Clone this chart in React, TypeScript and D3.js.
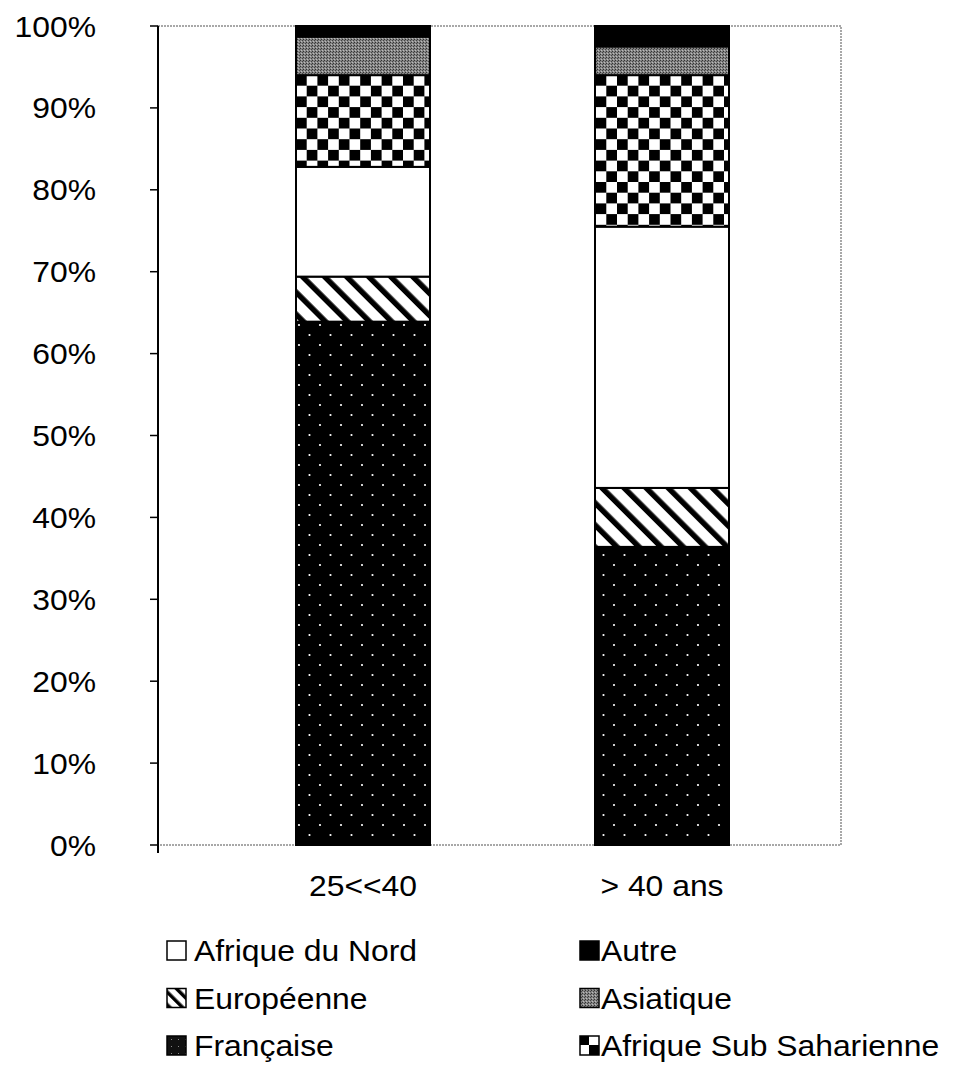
import React, { useEffect, useRef } from 'react';
import * as d3 from 'd3';

const categories = ['25<<40', '> 40 ans'];
const seriesNames = ['Française', 'Européenne', 'Afrique du Nord', 'Afrique Sub Saharienne', 'Asiatique', 'Autre'];
const francaise = [63.9, 36.4];
const europeenne = [5.5, 7.2];
const afriqueNord = [13.4, 31.9];
const subSaharienne = [11.2, 18.5];
const asiatique = [4.7, 3.5];
const autre = [1.3, 2.5];
const yTicks = [0, 10, 20, 30, 40, 50, 60, 70, 80, 90, 100];
const legendCol1 = ['Afrique du Nord', 'Européenne', 'Française'];
const legendCol2 = ['Autre', 'Asiatique', 'Afrique Sub Saharienne'];

const fills: Record<string, string> = {
  'Française': 'url(#pDots)',
  'Européenne': 'url(#pStripes)',
  'Afrique du Nord': '#ffffff',
  'Afrique Sub Saharienne': 'url(#pChecker)',
  'Asiatique': 'url(#pGray)',
  'Autre': '#000000',
};
const legendFills: Record<string, string> = {
  'Française': 'url(#lDots)',
  'Européenne': 'url(#lStripes)',
  'Afrique du Nord': '#ffffff',
  'Afrique Sub Saharienne': 'url(#lChecker)',
  'Asiatique': 'url(#pGray)',
  'Autre': '#000000',
};

// the scanned text is a bit wider than Arial
const STRETCH = 1.08;

export default function App() {
  const svgRef = useRef<SVGSVGElement>(null);

  useEffect(() => {
    if (!svgRef.current) return;
    const width = 953;
    const height = 1070;
    const plot = { left: 158, right: 841, top: 26, bottom: 845 };
    const font = '"Liberation Sans", Arial, sans-serif';

    const svg = d3.select(svgRef.current).attr('width', width).attr('height', height);
    svg.selectAll('*').remove();

    const defs = svg.append('defs');
    // dotted black (Française)
    const pd = defs.append('pattern').attr('id', 'pDots').attr('patternUnits', 'userSpaceOnUse')
      .attr('width', 21).attr('height', 20);
    pd.append('rect').attr('width', 21).attr('height', 20).attr('fill', '#000');
    pd.append('circle').attr('cx', 5).attr('cy', 5).attr('r', 1.1).attr('fill', '#fff');
    pd.append('circle').attr('cx', 15.5).attr('cy', 15).attr('r', 1.1).attr('fill', '#fff');
    // diagonal stripes (Européenne)
    const ps = defs.append('pattern').attr('id', 'pStripes').attr('patternUnits', 'userSpaceOnUse')
      .attr('width', 15.6).attr('height', 20).attr('patternTransform', 'rotate(-45)');
    ps.append('rect').attr('width', 15.6).attr('height', 20).attr('fill', '#fff');
    ps.append('rect').attr('width', 5.5).attr('height', 20).attr('fill', '#000');
    // checkerboard (Afrique Sub Saharienne)
    const pc = defs.append('pattern').attr('id', 'pChecker').attr('patternUnits', 'userSpaceOnUse')
      .attr('width', 21.4).attr('height', 21.4).attr('x', 296).attr('y', 75);
    pc.append('rect').attr('width', 21.4).attr('height', 21.4).attr('fill', '#fff');
    pc.append('rect').attr('width', 10.7).attr('height', 10.7).attr('fill', '#000');
    pc.append('rect').attr('x', 10.7).attr('y', 10.7).attr('width', 10.7).attr('height', 10.7).attr('fill', '#000');
    // gray stipple (Asiatique)
    const pg = defs.append('pattern').attr('id', 'pGray').attr('patternUnits', 'userSpaceOnUse')
      .attr('width', 3).attr('height', 3);
    pg.append('rect').attr('width', 3).attr('height', 3).attr('fill', '#858585');
    pg.append('rect').attr('x', 0).attr('y', 0).attr('width', 1).attr('height', 1).attr('fill', '#333');
    pg.append('rect').attr('x', 2).attr('y', 1).attr('width', 1).attr('height', 1).attr('fill', '#444');
    pg.append('rect').attr('x', 1).attr('y', 2).attr('width', 1).attr('height', 1).attr('fill', '#bbb');
    // legend versions
    const ld = defs.append('pattern').attr('id', 'lDots').attr('patternUnits', 'userSpaceOnUse')
      .attr('width', 7).attr('height', 7);
    ld.append('rect').attr('width', 7).attr('height', 7).attr('fill', '#111');
    ld.append('rect').attr('x', 3).attr('y', 3).attr('width', 1).attr('height', 1).attr('fill', '#888');
    const ls = defs.append('pattern').attr('id', 'lStripes').attr('patternUnits', 'userSpaceOnUse')
      .attr('width', 9).attr('height', 9).attr('patternTransform', 'rotate(-45)');
    ls.append('rect').attr('width', 9).attr('height', 9).attr('fill', '#fff');
    ls.append('rect').attr('width', 3.5).attr('height', 9).attr('fill', '#000');
    const lc = defs.append('pattern').attr('id', 'lChecker').attr('patternUnits', 'userSpaceOnUse')
      .attr('width', 20).attr('height', 20).attr('x', 580).attr('y', 1036);
    lc.append('rect').attr('width', 20).attr('height', 20).attr('fill', '#fff');
    lc.append('rect').attr('width', 9).attr('height', 9).attr('fill', '#000');
    lc.append('rect').attr('x', 9).attr('y', 9).attr('width', 11).attr('height', 11).attr('fill', '#000');

    const y = d3.scaleLinear().domain([0, 100]).range([plot.bottom, plot.top]);
    const x = d3.scalePoint<string>().domain(categories).range([363, 662]);
    const barW = 134;

    // plot area frame (gray)
    svg.append('rect')
      .attr('x', plot.left).attr('y', plot.top)
      .attr('width', plot.right - plot.left).attr('height', plot.bottom - plot.top)
      .attr('fill', 'none').attr('stroke', '#8c8c8c').attr('stroke-width', 1.5)
      .attr('stroke-dasharray', '2 1');

    const rows = categories.map((c, i) => ({
      cat: c,
      'Française': francaise[i],
      'Européenne': europeenne[i],
      'Afrique du Nord': afriqueNord[i],
      'Afrique Sub Saharienne': subSaharienne[i],
      'Asiatique': asiatique[i],
      'Autre': autre[i],
    }));
    const stacked = d3.stack<any>().keys(seriesNames)(rows);

    stacked.forEach(layer => {
      svg.append('g').selectAll('rect')
        .data(layer)
        .join('rect')
        .attr('x', (d: any) => (x(d.data.cat) as number) - barW / 2)
        .attr('y', (d: any) => y(d[1]))
        .attr('width', barW)
        .attr('height', (d: any) => y(d[0]) - y(d[1]))
        .attr('fill', fills[layer.key])
        .attr('stroke', '#000')
        .attr('stroke-width', 2);
    });

    // y axis
    svg.append('line')
      .attr('x1', plot.left).attr('x2', plot.left)
      .attr('y1', plot.top).attr('y2', plot.bottom + 8)
      .attr('stroke', '#000').attr('stroke-width', 2);
    const yt = svg.append('g');
    yt.selectAll('line').data(yTicks).join('line')
      .attr('x1', plot.left - 8).attr('x2', plot.left)
      .attr('y1', d => y(d)).attr('y2', d => y(d))
      .attr('stroke', '#000').attr('stroke-width', 1.5);
    yt.selectAll('text').data(yTicks).join('text')
      .attr('transform', d => `translate(96,${y(d) + 10.5}) scale(${STRETCH},1)`)
      .attr('text-anchor', 'end')
      .attr('font-family', font).attr('font-size', 29.5)
      .attr('fill', '#000')
      .text(d => `${d}%`);

    // x labels
    svg.append('g').selectAll('text').data(categories).join('text')
      .attr('transform', d => `translate(${x(d)},896) scale(${STRETCH},1)`)
      .attr('text-anchor', 'middle')
      .attr('font-family', font).attr('font-size', 29.5)
      .attr('fill', '#000')
      .text(d => d);

    // legend
    const drawLegend = (items: string[], sx: number, tx: number) => {
      items.forEach((name, i) => {
        const base = 961 + i * 47.5;
        svg.append('rect')
          .attr('x', sx).attr('y', base - 20).attr('width', 19).attr('height', 19)
          .attr('fill', legendFills[name]).attr('stroke', '#000').attr('stroke-width', 1.5);
        svg.append('text')
          .attr('transform', `translate(${tx},${base}) scale(${STRETCH},1)`)
          .attr('font-family', font).attr('font-size', 29.5)
          .attr('fill', '#000')
          .text(name);
      });
    };
    drawLegend(legendCol1, 167, 194);
    drawLegend(legendCol2, 580, 601);
  }, []);

  return (
    <div style={{ position: 'absolute', left: 0, top: 0 }}>
      <svg ref={svgRef} style={{ display: 'block', background: '#fff' }}></svg>
    </div>
  );
}
